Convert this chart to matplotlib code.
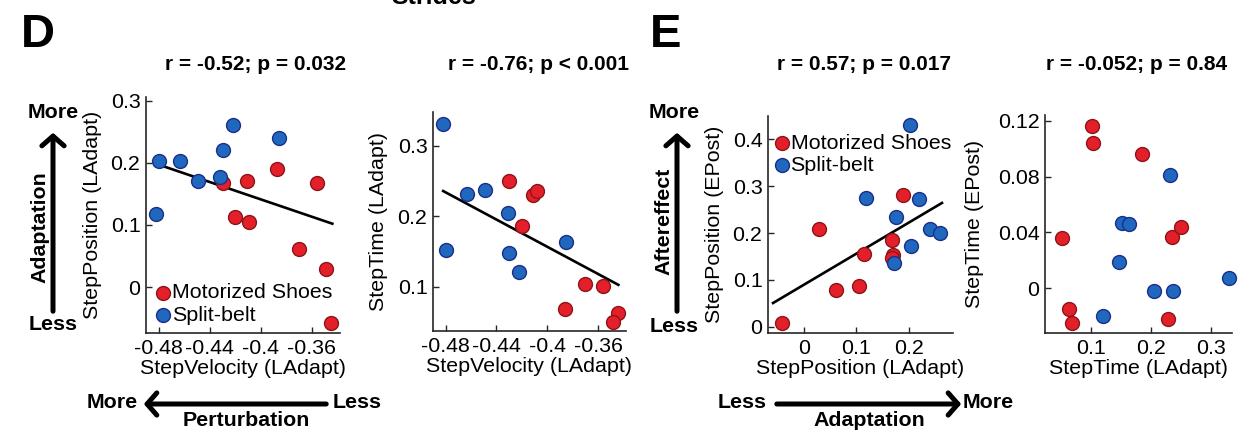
import numpy as np
import matplotlib
matplotlib.use("Agg")
import matplotlib.pyplot as plt
from matplotlib.patches import FancyArrowPatch

plt.rcParams['font.family'] = ['Liberation Sans', 'DejaVu Sans']

W, H = 1246, 434

# ---------------- data ----------------
# Panel D left: StepVelocity (LAdapt) vs StepPosition (LAdapt)
d1_shoe_x = [-0.430, -0.411, -0.387, -0.356, -0.420, -0.409, -0.370, -0.349, -0.345]
d1_shoe_y = [0.168, 0.171, 0.190, 0.168, 0.113, 0.105, 0.061, 0.029, -0.058]
d1_belt_x = [-0.480, -0.463, -0.449, -0.432, -0.430, -0.422, -0.386, -0.482]
d1_belt_y = [0.203, 0.203, 0.171, 0.177, 0.220, 0.261, 0.240, 0.118]
d1_fit_x = [-0.480, -0.344]
d1_fit_y = [0.197, 0.102]

# Panel D right: StepVelocity (LAdapt) vs StepTime (LAdapt)
d2_shoe_x = [-0.430, -0.411, -0.408, -0.420, -0.370, -0.356, -0.386, -0.344, -0.348]
d2_shoe_y = [0.250, 0.230, 0.236, 0.187, 0.104, 0.101, 0.069, 0.063, 0.050]
d2_belt_x = [-0.482, -0.463, -0.449, -0.431, -0.480, -0.430, -0.385, -0.422]
d2_belt_y = [0.331, 0.232, 0.238, 0.205, 0.152, 0.148, 0.164, 0.121]
d2_fit_x = [-0.482, -0.344]
d2_fit_y = [0.236, 0.103]

# Panel E left: StepPosition (LAdapt) vs StepPosition (EPost)
e1_shoe_x = [0.189, 0.029, 0.168, 0.170, 0.168, 0.114, 0.105, 0.061, -0.042]
e1_shoe_y = [0.281, 0.208, 0.185, 0.153, 0.147, 0.155, 0.087, 0.079, 0.008]
e1_belt_x = [0.202, 0.118, 0.219, 0.175, 0.240, 0.259, 0.204, 0.171]
e1_belt_y = [0.430, 0.274, 0.272, 0.234, 0.208, 0.200, 0.172, 0.136]
e1_fit_x = [-0.059, 0.263]
e1_fit_y = [0.051, 0.264]

# Panel E right: StepTime (LAdapt) vs StepTime (EPost)
e2_shoe_x = [0.102, 0.103, 0.185, 0.052, 0.235, 0.250, 0.063, 0.068, 0.228]
e2_shoe_y = [0.1164, 0.104, 0.096, 0.036, 0.037, 0.044, -0.015, -0.025, -0.022]
e2_belt_x = [0.232, 0.152, 0.163, 0.147, 0.205, 0.237, 0.120, 0.330]
e2_belt_y = [0.081, 0.047, 0.046, 0.019, -0.002, -0.002, -0.020, 0.007]

titles = ["r = -0.52; p = 0.032", "r = -0.76; p < 0.001",
          "r = 0.57; p = 0.017", "r = -0.052; p = 0.84"]
xlabels = ["StepVelocity (LAdapt)", "StepVelocity (LAdapt)",
           "StepPosition (LAdapt)", "StepTime (LAdapt)"]
ylabels = ["StepPosition (LAdapt)", "StepTime (LAdapt)",
           "StepPosition (EPost)", "StepTime (EPost)"]
legend_labels = ["Motorized Shoes", "Split-belt"]

xticks = [[-0.48, -0.44, -0.4, -0.36], [-0.48, -0.44, -0.4, -0.36],
          [0, 0.1, 0.2], [0.1, 0.2, 0.3]]
xticklabels = [["-0.48", "-0.44", "-0.4", "-0.36"], ["-0.48", "-0.44", "-0.4", "-0.36"],
               ["0", "0.1", "0.2"], ["0.1", "0.2", "0.3"]]
yticks = [[0, 0.1, 0.2, 0.3], [0.1, 0.2, 0.3], [0, 0.1, 0.2, 0.3, 0.4],
          [0, 0.04, 0.08, 0.12]]
yticklabels = [["0", "0.1", "0.2", "0.3"], ["0.1", "0.2", "0.3"],
               ["0", "0.1", "0.2", "0.3", "0.4"], ["0", "0.04", "0.08", "0.12"]]

# ---------------- style ----------------
RED, RED_E = '#E3202A', '#8E1418'
BLUE, BLUE_E = '#1F68BE', '#1A2F8A'
FS = 15.4
TFS = 15.0

fig = plt.figure(figsize=(W / 100, H / 100), dpi=100)


def px_axes(l, t, r, b):
    return fig.add_axes([l / W, 1 - b / H, (r - l) / W, (b - t) / H])


boxes = [(146, 97, 340, 333), (433, 112, 626, 331), (768, 116, 953, 333), (1045, 115, 1232, 333)]
xlims = [(-0.490, -0.338), (-0.490, -0.338), (-0.0686, 0.284), (0.0233, 0.335)]
ylims = [(-0.074, 0.306), (0.0376, 0.348), (-0.0128, 0.449), (-0.0323, 0.1243)]
data = [(d1_shoe_x, d1_shoe_y, d1_belt_x, d1_belt_y),
        (d2_shoe_x, d2_shoe_y, d2_belt_x, d2_belt_y),
        (e1_shoe_x, e1_shoe_y, e1_belt_x, e1_belt_y),
        (e2_shoe_x, e2_shoe_y, e2_belt_x, e2_belt_y)]
fits = [(d1_fit_x, d1_fit_y), (d2_fit_x, d2_fit_y), (e1_fit_x, e1_fit_y), None]
title_x = [256, 538, 864, 1137]
ylabel_x = [92, 379, 714, 975]

axes = []
for i in range(4):
    ax = px_axes(*boxes[i])
    axes.append(ax)
    sx, sy, bx, by = data[i]
    if fits[i] is not None:
        ax.plot(fits[i][0], fits[i][1], color='black', lw=1.9, zorder=1)
    h1 = ax.scatter(sx, sy, s=100, color=RED, edgecolors=RED_E, linewidths=1.0,
                    zorder=3, clip_on=False)
    h2 = ax.scatter(bx, by, s=100, color=BLUE, edgecolors=BLUE_E, linewidths=1.0,
                    zorder=3, clip_on=False)
    ax.set_xlim(*xlims[i])
    ax.set_ylim(*ylims[i])
    ax.set_xticks(xticks[i])
    ax.set_xticklabels(xticklabels[i])
    ax.set_yticks(yticks[i])
    ax.set_yticklabels(yticklabels[i])
    for sp in ['top', 'right']:
        ax.spines[sp].set_visible(False)
    for sp in ['left', 'bottom']:
        ax.spines[sp].set_linewidth(1.2)
        ax.spines[sp].set_color('#262626')
    ax.tick_params(direction='in', length=4, width=1.0, labelsize=FS,
                   colors='#262626', labelcolor='black', pad=4)
    ax.set_xlabel(xlabels[i], fontsize=FS, labelpad=1)
    fig.text(ylabel_x[i] / W, 1 - ((boxes[i][1] + boxes[i][3]) / 2) / H, ylabels[i],
             rotation=90, ha='center', va='center', fontsize=FS)
    fig.text(title_x[i] / W, 1 - 65 / H, titles[i], ha='center', va='center',
             fontsize=TFS, fontweight='bold')
    if i == 0:
        ax.legend([h1, h2], legend_labels, loc='center left', bbox_to_anchor=(0.05, 0.123),
                  frameon=False, fontsize=FS, handlelength=0.7, handletextpad=0.05,
                  labelspacing=0.15, borderpad=0, borderaxespad=0, markerscale=1.0)
    if i == 2:
        ax.legend([h1, h2], legend_labels, loc='center left', bbox_to_anchor=(0.035, 0.823),
                  frameon=False, fontsize=FS, handlelength=0.7, handletextpad=0.05,
                  labelspacing=0.15, borderpad=0, borderaxespad=0, markerscale=1.0)


def ft(x, y, s, **kw):
    fig.text(x / W, 1 - y / H, s, **kw)


def farrow(x0, y0, x1, y1):
    a = FancyArrowPatch((x0 / W, 1 - y0 / H), (x1 / W, 1 - y1 / H),
                        transform=fig.transFigure,
                        arrowstyle='->,head_length=0.35,head_width=0.4',
                        mutation_scale=20, lw=3.6, color='black')
    fig.add_artist(a)


# panel letters and header
ft(21, 47, "D", fontsize=34, fontweight='bold', va='baseline', ha='left')
ft(650, 47, "E", fontsize=34, fontweight='bold', va='baseline', ha='left')
ft(434, 4, "Strides", fontsize=18, fontweight='bold', va='baseline', ha='center')

# D side annotations
ft(53, 113, "More", fontsize=FS, fontweight='bold', ha='center', va='center')
ft(53, 325, "Less", fontsize=FS, fontweight='bold', ha='center', va='center')
ft(40, 227, "Adaptation", fontsize=FS, fontweight='bold', ha='center', va='center', rotation=90)
farrow(53, 314, 53, 130)

ft(112, 403, "More", fontsize=FS, fontweight='bold', ha='center', va='center')
ft(357, 403, "Less", fontsize=FS, fontweight='bold', ha='center', va='center')
ft(246, 420, "Perturbation", fontsize=FS, fontweight='bold', ha='center', va='center')
farrow(329, 404, 141, 404)

# E side annotations
ft(674, 113, "More", fontsize=FS, fontweight='bold', ha='center', va='center')
ft(674, 326, "Less", fontsize=FS, fontweight='bold', ha='center', va='center')
ft(664, 221, "Aftereffect", fontsize=FS, fontweight='bold', ha='center', va='center', rotation=90)
farrow(677, 314, 677, 130)

ft(742, 403, "Less", fontsize=FS, fontweight='bold', ha='center', va='center')
ft(988, 403, "More", fontsize=FS, fontweight='bold', ha='center', va='center')
ft(869, 420, "Adaptation", fontsize=FS, fontweight='bold', ha='center', va='center')
farrow(774, 404, 964, 404)

fig.savefig("out.png", dpi=100)
